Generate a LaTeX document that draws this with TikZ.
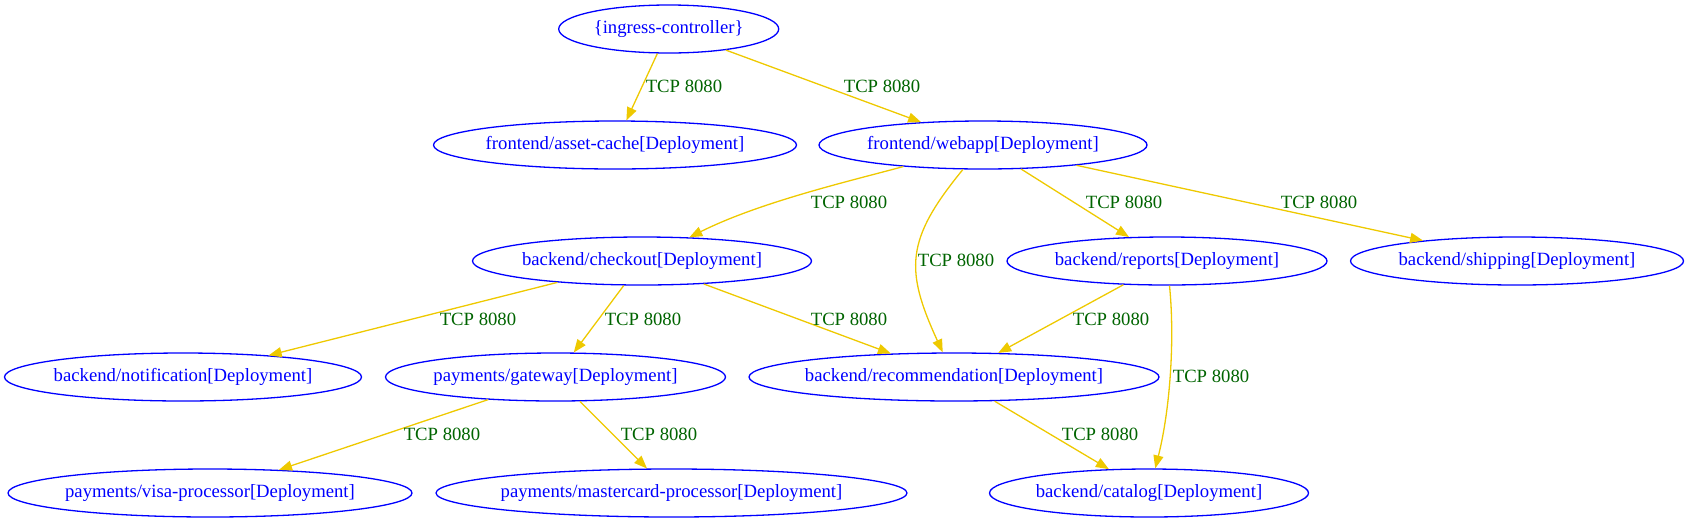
\documentclass[tikz,border=0pt]{standalone}
\usepackage{fontspec}
\setmainfont{Liberation Serif}
\usetikzlibrary{shapes.geometric,arrows.meta}
\definecolor{nodeblue}{HTML}{0000FF}
\definecolor{lblgreen}{HTML}{006400}
\definecolor{edgegold}{HTML}{EEC900}
\tikzset{
  svc/.style={ellipse, draw=nodeblue, text=nodeblue, line width=1.3pt, inner xsep=-80pt, inner ysep=0pt,
    minimum height=48pt, font=\fontsize{18.7}{22}\selectfont},
  conn/.style={draw=edgegold, line width=1.3pt, -{Triangle[length=13pt,width=10pt]}},
  lbl/.style={text=lblgreen, inner sep=0pt, font=\fontsize{18.7}{22}\selectfont}
}
\begin{document}
\begin{tikzpicture}[x=1pt,y=-1pt]
\useasboundingbox (0,0) rectangle (1688,523);
% nodes
\node[svc, minimum width=220pt] (ing) at (668.7,29) {\{ingress-controller\}};
\node[svc, minimum width=363pt] (asset) at (615,145) {frontend/asset-cache[Deployment]};
\node[svc, minimum width=328pt] (web) at (983,145) {frontend/webapp[Deployment]};
\node[svc, minimum width=339pt] (chk) at (642,261) {backend/checkout[Deployment]};
\node[svc, minimum width=320pt] (rep) at (1167,261) {backend/reports[Deployment]};
\node[svc, minimum width=333pt] (ship) at (1517,261) {backend/shipping[Deployment]};
\node[svc, minimum width=357pt] (notif) at (183,377) {backend/notification[Deployment]};
\node[svc, minimum width=340pt] (gw) at (555.5,377) {payments/gateway[Deployment]};
\node[svc, minimum width=410pt] (reco) at (954,377) {backend/recommendation[Deployment]};
\node[svc, minimum width=404pt] (visa) at (210,493) {payments/visa-processor[Deployment]};
\node[svc, minimum width=471pt] (mc) at (671.5,493) {payments/mastercard-processor[Deployment]};
\node[svc, minimum width=319pt] (cat) at (1149,493) {backend/catalog[Deployment]};
% edges
\draw[conn] (ing) -- (asset);
\draw[conn] (ing) -- (web);
\draw[conn] (web) .. controls (850,181) and (760,202) .. (chk);
\draw[conn] (web) .. controls (905,240) and (905,270) .. (reco);
\draw[conn] (web) -- (rep);
\draw[conn] (web) -- (ship);
\draw[conn] (chk) -- (notif);
\draw[conn] (chk) -- (gw);
\draw[conn] (chk) -- (reco);
\draw[conn] (rep) -- (reco);
\draw[conn] (rep) .. controls (1175,340) and (1170,410) .. (cat);
\draw[conn] (gw) -- (visa);
\draw[conn] (gw) -- (mc);
\draw[conn] (reco) -- (cat);
% labels
\node[lbl] (l1) at (684,86) {TCP 8080};
\node[lbl] (l2) at (882,86) {TCP 8080};
\node[lbl] (l3) at (849,202) {TCP 8080};
\node[lbl] (l4) at (956,260) {TCP 8080};
\node[lbl] (l5) at (1124,202) {TCP 8080};
\node[lbl] (l6) at (1319,202) {TCP 8080};
\node[lbl] (l7) at (478,319) {TCP 8080};
\node[lbl] (l8) at (643,319) {TCP 8080};
\node[lbl] (l9) at (849,319) {TCP 8080};
\node[lbl] (l10) at (1111,319) {TCP 8080};
\node[lbl] (l11) at (1211,376) {TCP 8080};
\node[lbl] (l12) at (442,434) {TCP 8080};
\node[lbl] (l13) at (659,434) {TCP 8080};
\node[lbl] (l14) at (1100,434) {TCP 8080};
\end{tikzpicture}
\end{document}
